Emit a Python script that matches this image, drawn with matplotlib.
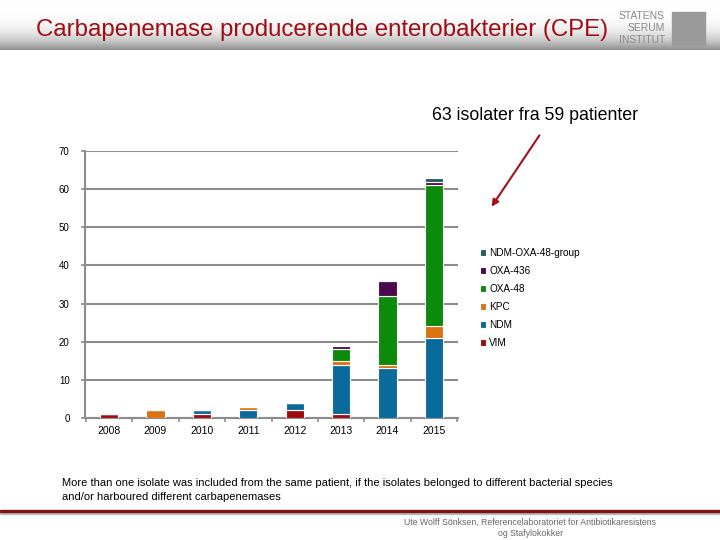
import numpy as np
import matplotlib
matplotlib.use('Agg')
import matplotlib.pyplot as plt
from matplotlib.patches import Rectangle, FancyArrowPatch

plt.rcParams['font.family'] = ['Liberation Sans', 'DejaVu Sans']

# Data
years = ['2008', '2009', '2010', '2011', '2012', '2013', '2014', '2015']
vim = [1, 0, 1, 0, 2, 1, 0, 0]
ndm = [0, 0, 1, 2, 2, 13, 13, 21]
kpc = [0, 2, 0, 1, 0, 1, 1, 3]
oxa48 = [0, 0, 0, 0, 0, 3, 18, 37]
oxa436 = [0, 0, 0, 0, 0, 1, 4, 1]
ndm_oxa48 = [0, 0, 0, 0, 0, 0, 0, 1]

series = [('VIM', vim, '#9E0B0F'),
          ('NDM', ndm, '#0A6A9B'),
          ('KPC', kpc, '#DB7310'),
          ('OXA-48', oxa48, '#0B8A0B'),
          ('OXA-436', oxa436, '#4A0B4E'),
          ('NDM-OXA-48-group', ndm_oxa48, '#1F5F63')]

fig = plt.figure(figsize=(7.2, 5.4), dpi=100)

# Header gradient band (white top, grey toward bottom)
hdr = fig.add_axes([0, 1 - 50 / 540, 1, 50 / 540])
t = np.linspace(0, 1, 100).reshape(-1, 1)
grad = 1 - 0.45 * t ** 3.5
hdr.imshow(np.dstack([grad, grad, grad]), aspect='auto', extent=[0, 1, 0, 1])
hdr.axis('off')

fig.text(36 / 720, 1 - 30 / 540, 'Carbapenemase producerende enterobakterier (CPE)',
         color='#A00D14', fontsize=17.3, va='center', ha='left')
fig.text(665 / 720, 1 - 16 / 540, 'STATENS', color='#8A8A8A', fontsize=7.5, ha='right', va='center')
fig.text(665 / 720, 1 - 28 / 540, 'SERUM', color='#8A8A8A', fontsize=7.5, ha='right', va='center')
fig.text(665 / 720, 1 - 40 / 540, 'INSTITUT', color='#8A8A8A', fontsize=7.5, ha='right', va='center')
fig.patches.append(Rectangle((672 / 720, 1 - 45 / 540), 33 / 720, 33 / 540,
                             transform=fig.transFigure, color='#9A9A9A'))

# Chart
ax = fig.add_axes([85 / 720, 1 - 418 / 540, 373 / 720, 267 / 540])
x = np.arange(len(years))
bottom = np.zeros(len(years))
handles = []
for name, vals, col in series:
    vals = np.array(vals, dtype=float)
    b = ax.bar(x, vals, 0.39, bottom=bottom, color=col, edgecolor='white',
               linewidth=0.8, label=name, zorder=3)
    handles.append(b)
    bottom += vals

ax.set_xlim(-0.52, 7.52)
ax.set_ylim(0, 70)
ax.set_yticks(range(0, 71, 10))
ax.yaxis.grid(True, color='#8C8C8C', linewidth=1.5, zorder=0)
ax.set_xticks(x)
ax.set_xticklabels(years, fontsize=7.5)
ax.set_xticks(np.arange(-0.5, 8, 1), minor=True)
ax.tick_params(axis='x', which='major', length=0, pad=6)
ax.tick_params(axis='x', which='minor', length=3, color='#8C8C8C', width=1.2)
ax.tick_params(axis='y', labelsize=7, length=3, color='#8C8C8C', width=1.2, pad=8)
for s in ['top', 'right']:
    ax.spines[s].set_visible(False)
for s in ['left', 'bottom']:
    ax.spines[s].set_color('#8C8C8C')
    ax.spines[s].set_linewidth(1.5)

leg = fig.legend(handles[::-1], [s[0] for s in series][::-1],
                 loc='upper left', bbox_to_anchor=(471 / 720, 1 - 239 / 540),
                 frameon=False, fontsize=7.2, handlelength=0.6, handleheight=0.6,
                 handletextpad=0.3, labelspacing=0.8)

# Annotation
fig.text(535 / 720, 1 - 116 / 540, '63 isolater fra 59 patienter', fontsize=12.8,
         ha='center', va='center')
fig.patches.append(FancyArrowPatch((541 / 720, 1 - 133 / 540), (490 / 720, 1 - 209 / 540),
                                   transform=fig.transFigure, arrowstyle='-|>',
                                   mutation_scale=10, color='#A01418', linewidth=1.5))

# Footnote
fig.text(62 / 720, 1 - 483 / 540,
         'More than one isolate was included from the same patient, if the isolates belonged to different bacterial species',
         fontsize=8, ha='left', va='center')
fig.text(62 / 720, 1 - 497 / 540, 'and/or harboured different carbapenemases',
         fontsize=8, ha='left', va='center')

# Footer line
fig.patches.append(Rectangle((0, 1 - 514 / 540), 1, 2 / 540, transform=fig.transFigure,
                             color='#BBBBBB'))
fig.patches.append(Rectangle((0, 1 - 512 / 540), 1, 2.5 / 540, transform=fig.transFigure,
                             color='#7A1518'))
fig.text(530 / 720, 1 - 522 / 540,
         'Ute Wolff Sönksen, Referencelaboratoriet for Antibiotikaresistens',
         fontsize=6.3, color='#666666', ha='center', va='center')
fig.text(531 / 720, 1 - 533 / 540, 'og Stafylokokker',
         fontsize=6.3, color='#666666', ha='center', va='center')

fig.savefig('out.png', dpi=100)
